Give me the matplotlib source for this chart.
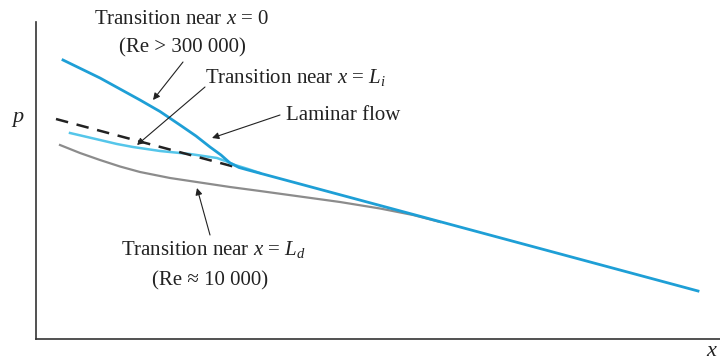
import matplotlib
matplotlib.use("Agg")
import matplotlib.pyplot as plt

plt.rcParams['font.family'] = ['Liberation Serif', 'DejaVu Serif']
plt.rcParams['mathtext.fontset'] = 'custom'
plt.rcParams['mathtext.rm'] = 'Liberation Serif'
plt.rcParams['mathtext.it'] = 'Liberation Serif:italic'

# pressure along the pipe (arbitrary units)
x_lam = [20, 204]
p_lam = [220, 170.7]

x_turb0 = [27, 64, 104, 124, 144, 160, 174, 185, 194, 203, 212, 662]
p_turb0 = [279, 261, 239, 227.5, 214, 203, 192, 184, 176, 171.5, 169, 48]

x_li = [34, 49, 64, 81, 97, 124, 154, 181, 192, 199, 212, 224]
p_li = [206, 202.5, 199, 195, 192, 188, 185, 181, 177, 174, 170, 166]

x_ld = [24, 44, 64, 84, 104, 134, 164, 194, 224, 264, 304, 344, 377, 404]
p_ld = [194, 186, 179, 172.5, 167, 161, 156.5, 152, 148, 142.5, 137, 130.5, 124, 117]

blue = '#1e9fd6'
cyan = '#55c6ea'
gray = '#8c8c8c'

fig = plt.figure(figsize=(7.2, 3.61), dpi=100)
ax = fig.add_axes([36 / 720, 22 / 361, 684 / 720, 317 / 361])
ax.set_xlim(0, 684)
ax.set_ylim(0, 317)
ax.spines['top'].set_visible(False)
ax.spines['right'].set_visible(False)
for s in ('left', 'bottom'):
    ax.spines[s].set_color('#333333')
    ax.spines[s].set_linewidth(1.2)
ax.set_xticks([])
ax.set_yticks([])

ax.plot(x_ld, p_ld, color=gray, lw=1.6)
ax.plot(x_li, p_li, color=cyan, lw=1.8)
ax.plot(x_lam, p_lam, color='#222222', lw=1.8, dashes=(5, 3.5))
ax.plot(x_turb0, p_turb0, color=blue, lw=2.0)

arrow = dict(arrowstyle='-|>', color='#222222', lw=0.8, mutation_scale=10,
             shrinkA=0, shrinkB=0)
fs = 15

ax.annotate('', xy=(117, 239), xytext=(147, 277), arrowprops=arrow)
ax.text(146, 319, 'Transition near $x$ = 0', fontsize=fs, ha='center',
        va='center', color='#222222', clip_on=False)
ax.text(146, 291, '(Re > 300 000)', fontsize=fs, ha='center',
        va='center', color='#222222')

ax.annotate('', xy=(101, 194), xytext=(169, 252), arrowprops=arrow)
ax.text(169, 261, 'Transition near $x$ = $L_i$', fontsize=fs, ha='left',
        va='center', color='#222222')

ax.annotate('', xy=(176, 201), xytext=(244, 224), arrowprops=arrow)
ax.text(250, 224, 'Laminar flow', fontsize=fs, ha='left',
        va='center', color='#222222')

ax.annotate('', xy=(161, 151), xytext=(174, 104), arrowprops=arrow)
ax.text(177, 89, 'Transition near $x$ = $L_d$', fontsize=fs, ha='center',
        va='center', color='#222222')
ax.text(174, 58, '(Re ≈ 10 000)', fontsize=fs, ha='center',
        va='center', color='#222222')

fig.text(18 / 720, 1 - 120 / 361, '$p$', fontsize=fs + 1, ha='center',
         va='center', color='#222222')
fig.text(712 / 720, 1 - 352 / 361, '$x$', fontsize=fs + 1, ha='center',
         va='center', color='#222222')

fig.savefig('out.png', dpi=100)
